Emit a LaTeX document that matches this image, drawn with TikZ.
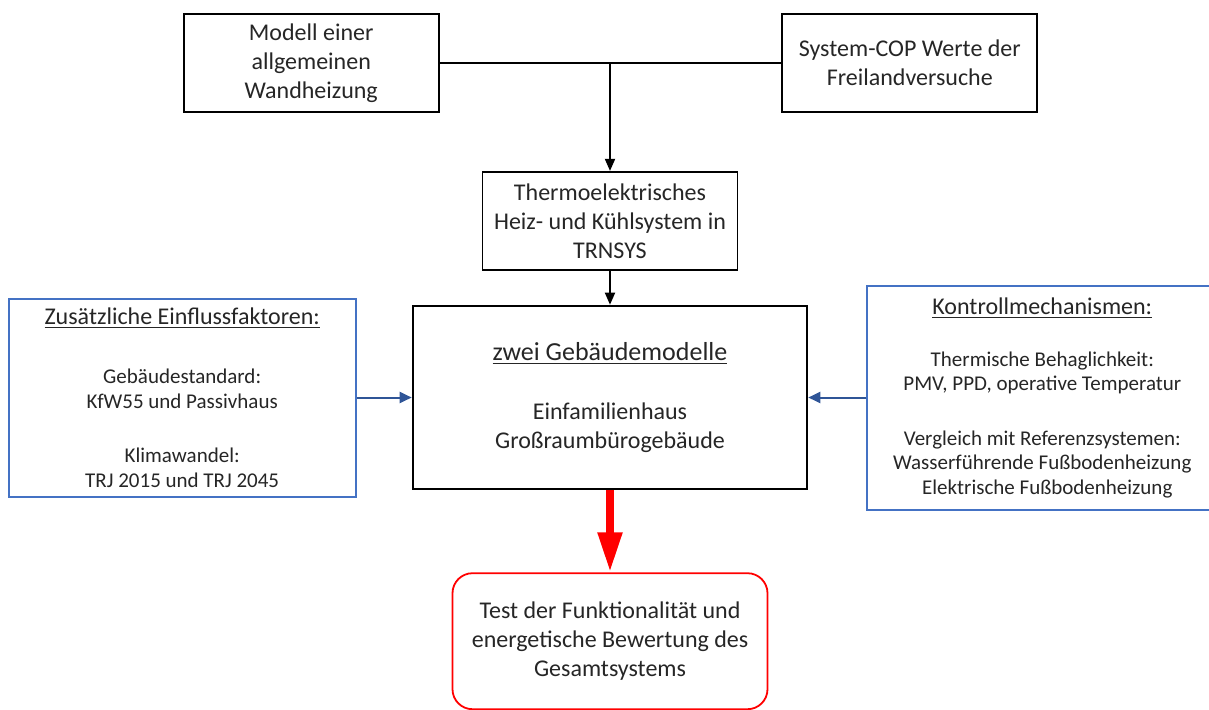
\documentclass[tikz,border=0pt]{standalone}
\usepackage{fontspec}
\setmainfont{Carlito}
\usepackage{xcolor}
\usetikzlibrary{arrows.meta, positioning}
\definecolor{textgray}{RGB}{38, 38, 38}
\definecolor{frameblue}{RGB}{68, 114, 196}
\definecolor{arrowblue}{RGB}{47, 85, 151}
\definecolor{signalred}{RGB}{255, 0, 0}
\newcommand{\boxtitle}[2]{{\fontsize{#1}{#1}\selectfont\underline{#2}}}

\begin{document}
\begin{tikzpicture}[
    box/.style={
      rectangle, draw=black, line width=0.9pt, fill=white,
      minimum width=127.5pt, minimum height=49pt, align=center, inner sep=0pt,
      font=\fontsize{12}{14.5}\selectfont, text=textgray
    },
    mainbox/.style={box, line width=1.3pt, minimum width=197pt, minimum height=91.5pt},
    bluebox/.style={box, draw=frameblue, line width=1pt, font=\fontsize{10.5}{12.2}\selectfont},
    resultbox/.style={box, draw=signalred, line width=0.9pt, rounded corners=10pt,
      minimum width=157.5pt, minimum height=68pt},
    arr/.style={-{Triangle[length=6pt, width=5pt]}, line width=0.9pt},
    bluearr/.style={-{Triangle[length=6pt, width=5.5pt]}, line width=1pt, color=arrowblue},
    redarr/.style={-{Triangle[length=20pt, width=11.5pt]}, line width=4pt, color=signalred}
]
  \node[mainbox] (modelle) at (0,0)
    {\boxtitle{13}{zwei Gebäudemodelle}\\[15pt]Einfamilienhaus\\Großraumbürogebäude};
  \useasboundingbox (-305pt,-155.75pt) rectangle (299.5pt,198.75pt);

  \node[box, above=17pt of modelle] (trnsys)
    {Thermoelektrisches\\Heiz- und Kühlsystem in\\TRNSYS};
  \node[box, above left=29pt and 21pt of trnsys] (wandheizung)
    {Modell einer\\allgemeinen\\Wandheizung};
  \node[box, above right=29pt and 21.5pt of trnsys] (systemcop)
    {System-COP Werte der\\Freilandversuche};

  \node[bluebox, left=27.5pt of modelle, minimum width=173.5pt, minimum height=99pt] (einfluss)
    {\boxtitle{12}{Zusätzliche Einflussfaktoren:}\\[17.5pt]
     Gebäudestandard:\\KfW55 und Passivhaus\\[15pt]
     Klimawandel:\\TRJ 2015 und TRJ 2045};
  \node[bluebox, right=29pt of modelle, minimum width=175pt, minimum height=112pt] (kontrolle)
    {\boxtitle{12}{Kontrollmechanismen:}\\[14pt]
     Thermische Behaglichkeit:\\PMV, PPD, operative Temperatur\\[15pt]
     Vergleich mit Referenzsystemen:\\Wasserführende Fußbodenheizung\\
     \hspace*{5pt}Elektrische Fußbodenheizung};

  \node[resultbox, below=41pt of modelle] (ergebnis)
    {Test der Funktionalität und\\energetische Bewertung des\\Gesamtsystems};

  % Arrows
  \coordinate (junction) at (wandheizung.east -| trnsys.north);
  \draw[line width=0.9pt] (wandheizung) -- (systemcop);
  \draw[arr] (junction) -- (trnsys);
  \draw[arr] (trnsys) -- (modelle);

  % Side inputs
  \draw[bluearr] (einfluss) -- (modelle);
  \draw[bluearr] (kontrolle) -- (modelle);

  % Result
  \draw[redarr] (modelle) -- (ergebnis);
\end{tikzpicture}
\end{document}
